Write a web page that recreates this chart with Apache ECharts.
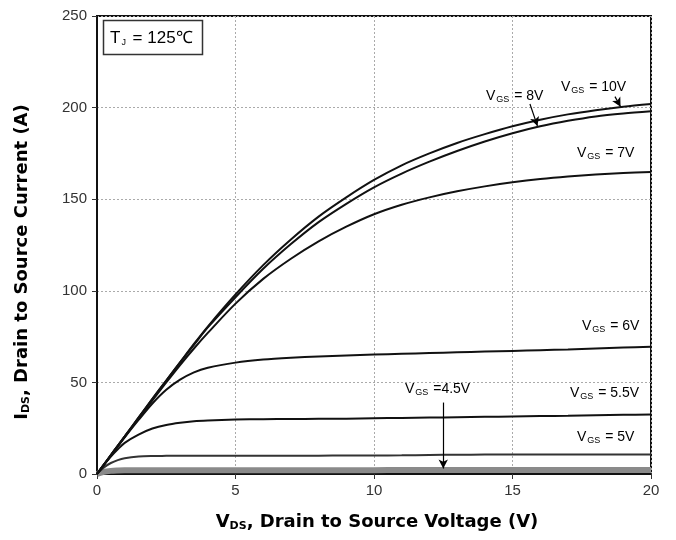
<!DOCTYPE html>
<html>
<head>
<meta charset="utf-8">
<script src="https://cdn.jsdelivr.net/npm/echarts@6/dist/echarts.min.js"></script>
<style>
  html, body { margin: 0; padding: 0; background: #fff; }
  #chart { width: 676px; height: 540px; }
</style>
</head>
<body>
<div id="chart"></div>
<script>
// Drain-source voltage samples (V)
const vds = [0, 0.25, 0.5, 0.75, 1, 1.5, 2, 2.5, 3, 3.5, 4, 5, 6, 7, 8, 9, 10, 11, 12, 13, 14, 15, 16, 17, 18, 19, 20];

// Drain current (A) for each gate voltage, Tj = 125 °C
const id10V = [0, 5.1, 10.3, 15.4, 20.5, 30.8, 41, 51, 61, 71, 80.5, 98, 114, 128, 140.5, 151, 160.5, 168.5, 175, 180.7, 185.5, 189.8, 193.4, 196.3, 198.6, 200.5, 202];
const id8V  = [0, 5.1, 10.3, 15.4, 20.5, 30.8, 41, 51, 61, 70.5, 80, 96.5, 112, 125.5, 137.5, 147.5, 156.5, 164, 170.5, 176.3, 181.5, 186, 189.8, 192.8, 195.2, 196.8, 198];
const id7V  = [0, 5.1, 10.2, 15.3, 20.3, 30.3, 40.2, 50, 59.5, 68.5, 77, 93, 106.5, 117.5, 127, 135, 141.8, 147, 151, 154.3, 157, 159.2, 161, 162.4, 163.5, 164.3, 164.8];
const id6V  = [0, 5, 10, 15, 20, 29.5, 38.5, 46, 51.5, 55.5, 58, 60.8, 62.5, 63.5, 64.2, 64.7, 65.2, 65.6, 66, 66.4, 66.8, 67.2, 67.6, 68, 68.5, 69, 69.4];
const id55V = [0, 5, 9.5, 13.5, 17, 21.5, 24.8, 26.8, 28, 28.8, 29.2, 29.7, 29.9, 30, 30.1, 30.2, 30.4, 30.6, 30.8, 31, 31.2, 31.4, 31.6, 31.8, 32.1, 32.3, 32.5];
const id5V  = [0, 3.6, 6, 7.6, 8.6, 9.5, 9.8, 9.9, 10, 10, 10, 10, 10, 10, 10, 10.1, 10.1, 10.2, 10.4, 10.5, 10.6, 10.6, 10.6, 10.6, 10.6, 10.6, 10.6];
const id45V = [0, 1.2, 1.7, 1.9, 2, 2.1, 2.1, 2.1, 2.1, 2.1, 2.1, 2.1, 2.1, 2.1, 2.1, 2.1, 2.1, 2.2, 2.2, 2.2, 2.2, 2.2, 2.2, 2.2, 2.2, 2.2, 2.2];

// Axis ticks
const xTicks = [0, 5, 10, 15, 20];
const yTicks = [0, 50, 100, 150, 200, 250];

// Curve labels (pixel anchor of each label's left edge) and annotation arrows (data coordinates)
const labels = [
  { text: '8V',   x: 486, y: 96 },
  { text: '10V',  x: 561, y: 87 },
  { text: '7V',   x: 577, y: 153 },
  { text: '6V',   x: 582, y: 326 },
  { text: '5.5V', x: 570, y: 393 },
  { text: '5V',   x: 577, y: 437 }
];
const arrow8V  = [[15.63, 202], [15.9, 190]];
const arrow10V = [[18.7, 206], [18.9, 200.5]];
const arrow45V = [[12.5, 39], [12.5, 3]];

const pairs = ys => vds.map((v, i) => [v, ys[i]]);

const FONT = '"Liberation Sans", Arial, sans-serif';
const TITLE_FONT = '"DejaVu Sans", "Liberation Sans", sans-serif';

function curve(name, ys, color, width, arrow) {
  const s = {
    name: name,
    type: 'line',
    data: pairs(ys),
    smooth: 0.3,
    showSymbol: false,
    silent: true,
    lineStyle: { color: color, width: width },
    z: 3
  };
  if (arrow) {
    s.markLine = {
      silent: true,
      symbol: ['none', 'arrow'],
      symbolSize: [7, 9],
      label: { show: false },
      lineStyle: { color: '#000', width: 1.2, type: 'solid' },
      data: [[{ coord: arrow[0] }, { coord: arrow[1] }]]
    };
  }
  return s;
}

const vgsRich = {
  v: { fontFamily: FONT, fontSize: 14, color: '#222', lineHeight: 18, verticalAlign: 'middle' },
  s: { fontFamily: FONT, fontSize: 9, color: '#222', padding: [8, 1, 0, 1], verticalAlign: 'middle' }
};

const graphics = labels.map(l => ({
  type: 'text',
  x: l.x, y: l.y,
  silent: true,
  style: {
    text: '{v|V}{s|GS}{v| = ' + l.text + '}',
    rich: vgsRich,
    verticalAlign: 'middle'
  },
  z: 10
}));

graphics.push({
  type: 'text',
  x: 405, y: 389,
  silent: true,
  style: { text: '{v|V}{s|GS}{v| =4.5V}', rich: vgsRich, verticalAlign: 'middle' },
  z: 10
});

// Junction temperature box
graphics.push({
  type: 'rect',
  shape: { x: 103.5, y: 20.5, width: 99, height: 34 },
  style: { fill: '#fff', stroke: '#333', lineWidth: 1.5 },
  z: 10
});
graphics.push({
  type: 'text',
  x: 110, y: 38,
  silent: true,
  style: {
    text: '{v|T}{s|J}{v| = 125℃}',
    rich: {
      v: { fontFamily: FONT, fontSize: 17, color: '#222', lineHeight: 20, verticalAlign: 'middle' },
      s: { fontFamily: FONT, fontSize: 9, color: '#222', padding: [10, 2, 0, 1], verticalAlign: 'middle' }
    },
    verticalAlign: 'middle'
  },
  z: 11
});

// Axis titles
const titleRich = {
  t: { fontFamily: TITLE_FONT, fontSize: 18, fontWeight: 'bold', color: '#111', lineHeight: 24, verticalAlign: 'middle' },
  s: { fontFamily: TITLE_FONT, fontSize: 11, fontWeight: 'bold', color: '#111', padding: [9, 0, 0, 0], verticalAlign: 'middle' }
};
graphics.push({
  type: 'text',
  x: 377, y: 522,
  silent: true,
  style: { text: '{t|V}{s|DS}{t|, Drain to Source Voltage (V)}', rich: titleRich, align: 'center', verticalAlign: 'middle' },
  z: 10
});
graphics.push({
  type: 'text',
  x: 22, y: 262,
  rotation: Math.PI / 2,
  silent: true,
  style: { text: '{t|I}{s|DS}{t|, Drain to Source Current (A)}', rich: titleRich, align: 'center', verticalAlign: 'middle' },
  z: 10
});

const chart = echarts.init(document.getElementById('chart'), null, { renderer: 'canvas' });

chart.setOption({
  animation: false,
  backgroundColor: '#fff',
  grid: {
    left: 97, right: 25, top: 16, bottom: 66,
    show: true, borderColor: '#111', borderWidth: 2, backgroundColor: 'transparent'
  },
  xAxis: {
    type: 'value',
    min: xTicks[0], max: xTicks[xTicks.length - 1], interval: xTicks[1] - xTicks[0],
    axisLine: { show: true, lineStyle: { color: '#111', width: 2 } },
    axisTick: { show: true, inside: false, length: 5, lineStyle: { color: '#333' } },
    axisLabel: { fontFamily: FONT, fontSize: 15, color: '#333', margin: 9 },
    splitLine: { show: true, lineStyle: { color: '#aaa', type: [2, 2], width: 1 } }
  },
  yAxis: {
    type: 'value',
    min: yTicks[0], max: yTicks[yTicks.length - 1], interval: yTicks[1] - yTicks[0],
    axisLine: { show: true, lineStyle: { color: '#111', width: 2 } },
    axisTick: { show: true, inside: false, length: 5, lineStyle: { color: '#333' } },
    axisLabel: { fontFamily: FONT, fontSize: 15, color: '#333', margin: 10 },
    splitLine: { show: true, lineStyle: { color: '#aaa', type: [2, 2], width: 1 } }
  },
  series: [
    curve('VGS=4.5V', id45V, '#8a8a8a', 6, arrow45V),
    curve('VGS=5V', id5V, '#333', 2),
    curve('VGS=5.5V', id55V, '#111', 2),
    curve('VGS=6V', id6V, '#111', 2),
    curve('VGS=7V', id7V, '#111', 2),
    curve('VGS=8V', id8V, '#111', 2, arrow8V),
    curve('VGS=10V', id10V, '#111', 2, arrow10V)
  ],
  graphic: graphics
});
</script>
</body>
</html>
